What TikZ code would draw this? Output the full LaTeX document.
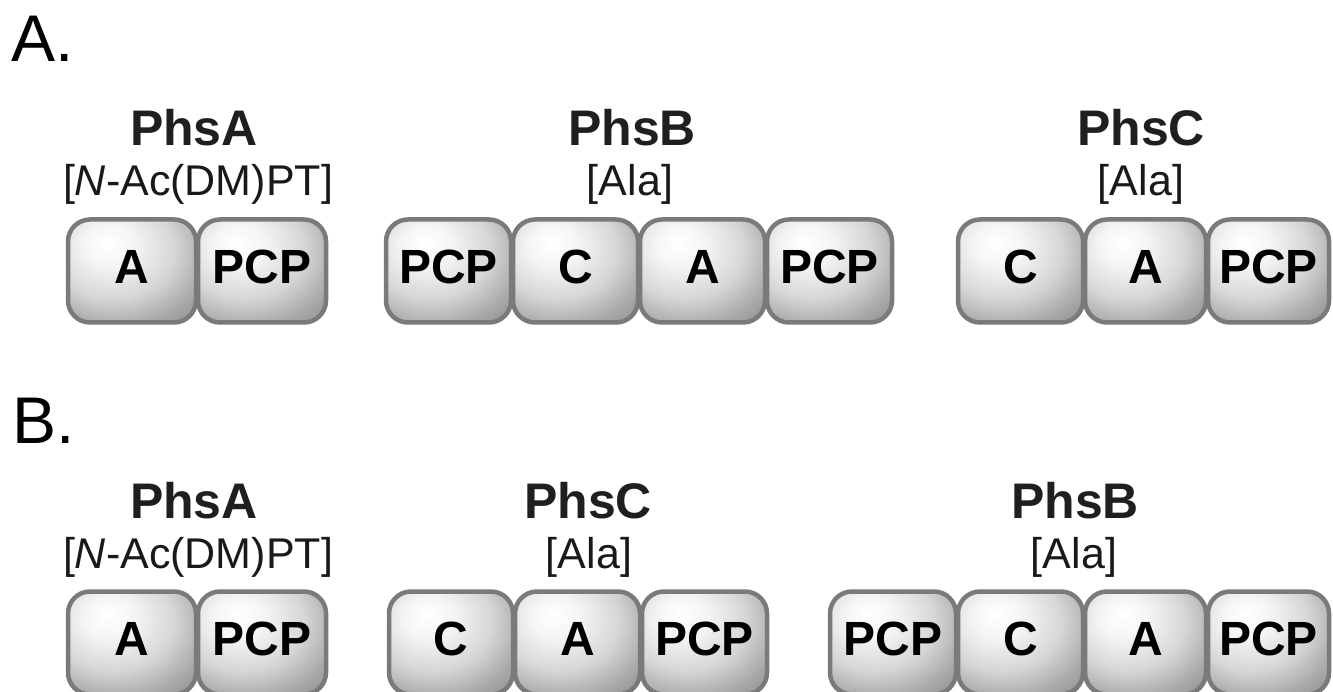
\documentclass[tikz,border=0pt]{standalone}
\usepackage{fontspec}
\setmainfont{Liberation Sans}
\definecolor{rim}{HTML}{7A7A7A}
\pgfdeclareradialshading{pillow}{\pgfpoint{-10bp}{14bp}}{color(0bp)=(white); color(10bp)=(white!96!black); color(24bp)=(white!84!black); color(36bp)=(white!66!black); color(48bp)=(white!52!black); color(100bp)=(white!45!black)}
\tikzset{
  dom/.style={draw=rim, line width=4.5pt, rounded corners=22pt, shading=pillow,
    minimum height=103pt, inner sep=0pt, text height=34pt, text depth=9pt,
    font=\fontsize{48}{50}\selectfont\bfseries, text=black},
  title/.style={anchor=base, inner sep=0pt, font=\fontsize{50}{52}\selectfont\bfseries, text=black!88},
  sub/.style={anchor=base, inner sep=0pt, font=\fontsize{43}{45}\selectfont, text=black!90},
  panel/.style={anchor=base west, inner sep=0pt, font=\fontsize{66}{68}\selectfont}
}
\begin{document}
\begin{tikzpicture}[x=1pt,y=-1pt]
\useasboundingbox (0,0) rectangle (1333,692);
\clip (0,0) rectangle (1333,692);
% panel labels
\node[panel] (lA) at (11,62) {A.};
\node[panel] (lB) at (12,443) {B.};
% Row A titles
\node[title] (tA1) at (194,146) {PhsA};
\node[sub]   (sA1) at (198,196) {[\textit{N}-Ac(DM)PT]};
\node[title] (tA2) at (632,146) {PhsB};
\node[sub]   (sA2) at (630,196) {[Ala]};
\node[title] (tA3) at (1141,146) {PhsC};
\node[sub]   (sA3) at (1141,196) {[Ala]};
% Row A boxes
\node[dom, minimum width=128pt] (a1) at (132,271) {A};
\node[dom, minimum width=128pt] (a2) at (262,271) {PCP};
\node[dom, minimum width=125pt] (b1) at (448.5,271) {PCP};
\node[dom, minimum width=125pt] (b2) at (575.5,271) {C};
\node[dom, minimum width=125pt] (b3) at (702.5,271) {A};
\node[dom, minimum width=125pt] (b4) at (829.5,271) {PCP};
\node[dom, minimum width=125pt] (c1) at (1020.5,271) {C};
\node[dom, minimum width=121pt] (c2) at (1145.5,271) {A};
\node[dom, minimum width=121pt] (c3) at (1268.5,271) {PCP};
% Row B titles
\node[title] (tB1) at (194,518) {PhsA};
\node[sub]   (sB1) at (198,568) {[\textit{N}-Ac(DM)PT]};
\node[title] (tB2) at (588,518) {PhsC};
\node[sub]   (sB2) at (589,568) {[Ala]};
\node[title] (tB3) at (1075,518) {PhsB};
\node[sub]   (sB3) at (1074,568) {[Ala]};
% Row B boxes
\node[dom, minimum width=128pt] (d1) at (132,643) {A};
\node[dom, minimum width=128pt] (d2) at (262,643) {PCP};
\node[dom, minimum width=124pt] (e1) at (451,643) {C};
\node[dom, minimum width=125pt] (e2) at (577.5,643) {A};
\node[dom, minimum width=125pt] (e3) at (704.5,643) {PCP};
\node[dom, minimum width=126pt] (f1) at (893,643) {PCP};
\node[dom, minimum width=125pt] (f2) at (1020.5,643) {C};
\node[dom, minimum width=121pt] (f3) at (1145.5,643) {A};
\node[dom, minimum width=121pt] (f4) at (1268.5,643) {PCP};
\end{tikzpicture}
\end{document}
